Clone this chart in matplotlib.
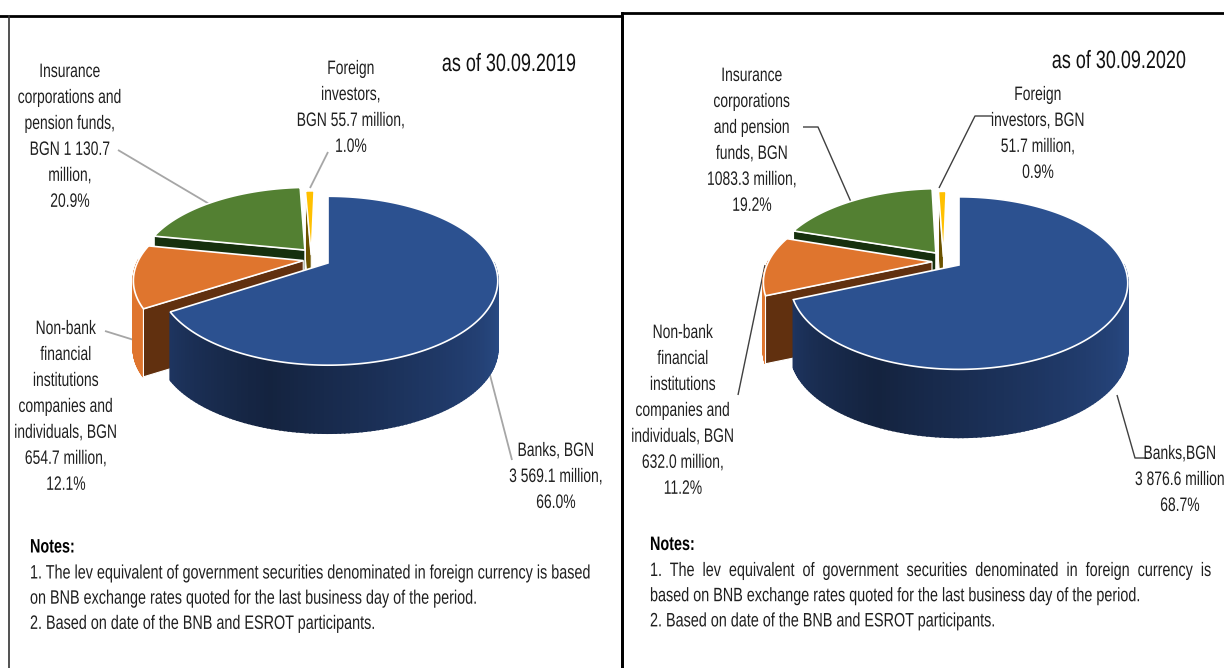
#!/usr/bin/env python3

import numpy as np
import matplotlib
matplotlib.use("Agg")
import matplotlib.pyplot as plt
from matplotlib.colors import to_rgb
from matplotlib.patches import Polygon
from matplotlib.patheffects import AbstractPathEffect
from matplotlib.text import Text
from matplotlib.transforms import Affine2D, Bbox

plt.rcParams["font.family"] = ["Liberation Sans", "DejaVu Sans"]

W, H = 1224, 668

# BGN million: banks, non-bank, insurance, foreign
VALUES_2019 = [3569.1, 654.7, 1130.7, 55.7]
VALUES_2020 = [3876.6, 632.0, 1083.3, 51.7]

COLORS = ["#2c5190", "#df752e", "#538032", "#ffc000"]
WALLS = ["#1d3560", "#61300f", "#16300e", "#6b5200"]

LABELS_2019 = [
    (556, 443, "Banks, BGN\n3 569.1 million,\n66.0%"),
    (66, 321, "Non-bank\nfinancial\ninstitutions\ncompanies and\nindividuals, BGN\n654.7 million,\n12.1%"),
    (70, 64, "Insurance\ncorporations and\npension funds,\nBGN 1 130.7\nmillion,\n20.9%"),
    (351, 61, "Foreign\ninvestors,\nBGN 55.7 million,\n1.0%"),
]
LABELS_2020 = [
    (1180, 446, "Banks,BGN\n3 876.6 million\n68.7%"),
    (683, 325, "Non-bank\nfinancial\ninstitutions\ncompanies and\nindividuals, BGN\n632.0 million,\n11.2%"),
    (752, 68, "Insurance\ncorporations\nand pension\nfunds, BGN\n1083.3 million,\n19.2%"),
    (1038, 87, "Foreign\ninvestors, BGN\n51.7 million,\n0.9%"),
]

NOTES_2019 = [
    "1. The lev equivalent of government securities denominated in foreign currency is based",
    "on BNB exchange rates quoted for the last business day of the period.",
    "2. Based on date of the BNB and ESROT participants.",
]
NOTES_2020 = [
    "1.  The  lev  equivalent  of  government  securities  denominated  in  foreign  currency  is",
    "based on BNB exchange rates quoted for the last business day of the period.",
    "2. Based on date of the BNB and ESROT participants.",
]

TILT = 0.21
DEPTH = 68


class Squeeze(AbstractPathEffect):
    # the reference text is Arial pressed narrow, no narrow font is installed
    def __init__(self, x0, sx):
        super().__init__()
        self.x0 = x0
        self.sx = sx

    def draw_path(self, renderer, gc, tpath, affine, rgbFace=None):
        aff = affine + Affine2D().translate(-self.x0, 0).scale(self.sx, 1).translate(self.x0, 0)
        renderer.draw_path(gc, tpath, aff, rgbFace)


class SqueezedText(Text):
    # keep the reported extent in step with what the path effect draws
    x0 = 0
    sx = 1

    def get_window_extent(self, renderer=None, dpi=None):
        b = super().get_window_extent(renderer, dpi)
        return Bbox.from_extents(self.x0 + (b.x0 - self.x0) * self.sx, b.y0,
                                 self.x0 + (b.x1 - self.x0) * self.sx, b.y1)


def project(u, v, apex, a, lift):
    w = 1 + TILT * v
    return apex[0] + a * u / w, (apex[1] - lift * v) / w


def shade_blue(frac):
    stops = [(0.0, "#2c5190"), (0.39, "#1f3866"), (0.72, "#14233f"), (1.0, "#1e3560")]
    xs = [s[0] for s in stops]
    rgb = np.array([to_rgb(s[1]) for s in stops])
    return tuple(np.interp(frac, xs, rgb[:, i]) for i in range(3))


def draw_pie(ax, values, apex, a, lift, explode):
    vals = np.array(values, dtype=float)
    sweep = vals / vals.sum() * 360
    starts = 90 - np.concatenate([[0], np.cumsum(sweep)[:-1]])
    # painter's order: back slices first
    for i in [3, 2, 1, 0]:
        t = np.radians(np.linspace(starts[i], starts[i] - sweep[i], 200))
        eu, ev = explode[i]
        u = np.cos(t) + eu
        v = np.sin(t) + ev
        x, y = project(u, v, apex, a, lift)
        ax0, ay0 = project(eu, ev, apex, a, lift)

        # outer wall, front half only
        front = np.sin(t) < 0.02
        if front.any():
            xf, yf = x[front], y[front]
            n = len(xf)
            for k in range(n - 1):
                c = shade_blue(k / (n - 1)) if i == 0 else COLORS[i]
                ax.fill([xf[k], xf[k + 1], xf[k + 1], xf[k]],
                        [yf[k], yf[k + 1], yf[k + 1] + DEPTH, yf[k] + DEPTH],
                        color=c, lw=1.2, zorder=2)

        # side wall on the cut face
        x1, y1 = x[0], y[0]
        ax.add_patch(Polygon([(ax0, ay0), (x1, y1), (x1, y1 + DEPTH), (ax0, ay0 + DEPTH)],
                             closed=True, fc=WALLS[i], ec="white", lw=0.8, zorder=2))

        ax.add_patch(Polygon(np.column_stack([np.r_[ax0, x], np.r_[ay0, y]]),
                             closed=True, fc=COLORS[i], ec="white", lw=1.2, zorder=2))


def leader(ax, xs, ys, color, lw=1.3):
    ax.plot(xs, ys, color=color, lw=lw, zorder=1, solid_capstyle="butt")


def squeezed(ax, x, y, s, sx, **kw):
    t = SqueezedText(x, y, s, **kw)
    ax.add_artist(t)
    t.x0 = ax.transData.transform((x, 0))[0]
    t.sx = sx
    t.set_path_effects([Squeeze(t.x0, sx)])
    return t


def put_labels(ax, labels):
    for x, y, s in labels:
        squeezed(ax, x, y, s, 0.715, ha="center", va="top", fontsize=14, color="#1f1f1f", linespacing=1.69)


def put_notes(ax, x, y, notes):
    squeezed(ax, x, y, "Notes:", 0.74, ha="left", va="center", fontsize=14, fontweight="bold", color="black")
    for i, line in enumerate(notes):
        squeezed(ax, x, y + 26 + i * 25.2, line, 0.74, ha="left", va="center", fontsize=14, color="#1f1f1f")


def main():
    fig = plt.figure(figsize=(W / 100, H / 100), dpi=100)
    ax = fig.add_axes([0, 0, 1, 1])
    ax.set_xlim(0, W)
    ax.set_ylim(H, 0)
    ax.axis("off")

    # panel frames
    ax.plot([0, 622, 622], [15.5, 15.5, H], color="black", lw=2.0)
    ax.plot([9, 9], [15.5, H], color="#333333", lw=1.2)
    ax.plot([622, W], [12.5, 12.5], color="black", lw=2.0)
    ax.plot([622, 622], [12.5, H], color="black", lw=2.0)

    draw_pie(ax, VALUES_2019, (328, 263), 166, 25.5,
             [(0, 0), (-0.15, 0.03), (-0.144, 0.166), (-0.103, 0.10)])
    draw_pie(ax, VALUES_2020, (959, 265), 165, 26.8,
             [(0, 0), (-0.165, 0.04), (-0.145, 0.15), (-0.096, 0.10)])

    gray = "#a6a6a6"
    dark = "#404040"
    leader(ax, [118, 211], [150, 205], gray)
    leader(ax, [328, 310], [152, 188], gray)
    leader(ax, [105, 134], [331, 340], gray)
    leader(ax, [490, 512], [375, 460], gray)
    leader(ax, [803, 818, 851], [127, 127, 202], dark, 1.0)
    leader(ax, [992, 975, 939], [116, 116, 188], dark, 1.0)
    leader(ax, [765, 738], [265, 395], dark, 1.0)
    leader(ax, [1117, 1135, 1147], [395, 458, 458], dark, 1.0)

    put_labels(ax, LABELS_2019)
    put_labels(ax, LABELS_2020)

    squeezed(ax, 509, 64, "as of 30.09.2019", 0.72, ha="center", va="center", fontsize=18, color="#111111")
    squeezed(ax, 1119, 61, "as of 30.09.2020", 0.72, ha="center", va="center", fontsize=18, color="#111111")

    put_notes(ax, 30, 548, NOTES_2019)
    put_notes(ax, 650, 545.5, NOTES_2020)

    fig.savefig("out.png", dpi=100)
    plt.close(fig)


if __name__ == "__main__":
    main()
